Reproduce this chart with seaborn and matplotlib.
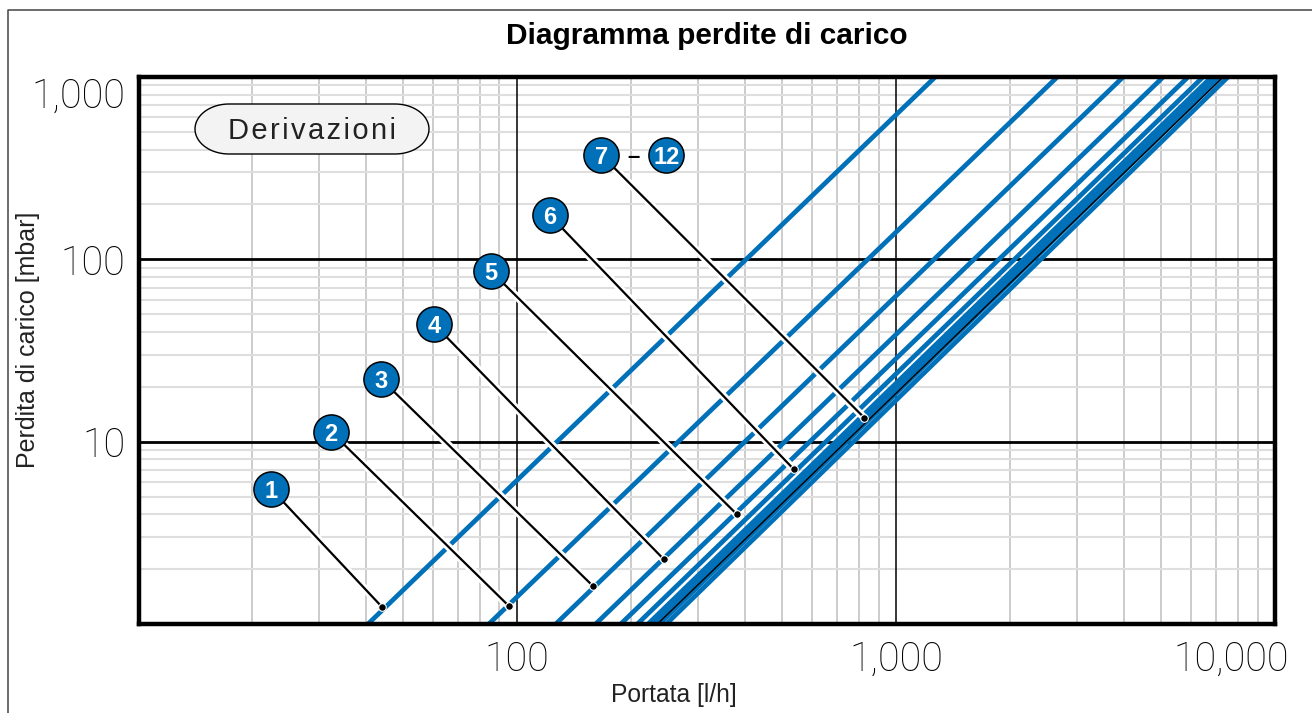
"""
Pressure drop diagram, one line per branch count.
"""
import numpy as np
import pandas as pd
import matplotlib
matplotlib.use('Agg')
import matplotlib.pyplot as plt
import matplotlib.patheffects as pe
import matplotlib.transforms as mtransforms
from matplotlib.lines import Line2D
from matplotlib.patches import Polygon
from matplotlib.ticker import NullFormatter, FixedLocator
import seaborn as sns

# flow [l/h] where each line meets 1 mbar and 1000 mbar
line_names = ['1', '2', '3', '4', '5', '6', '7', '8', '9', '10', '11', '12']
flow_at_1 = [40.5, 84.4, 126.7, 161.4, 188, 208, 222, 226, 230, 234, 238, 248]
flow_at_1000 = [1270, 2665, 3976, 5070, 5898, 6457, 6800, 6900, 7000, 7100, 7200, 7516]
dp_ends = [1, 1000]

# thin black line inside the band
black_flow = [235, 7300]

# callouts: bubble position and the point on the line
bubble_labels = ['1', '2', '3', '4', '5', '6', '7']
bubble_x = [22.5, 32.4, 43.8, 60.4, 85.4, 122, 167]
bubble_y = [5.50, 11.3, 22.1, 44.2, 86.4, 175, 374]
end_x = [44.1, 95.3, 158.6, 243.9, 380, 537, 826]
end_y = [1.24, 1.255, 1.62, 2.27, 4.01, 7.08, 13.5]
last_bubble_x = 248
last_bubble_y = 374
dash_x = 203

x_ticks = [100, 1000, 10000]
x_tick_labels = ['100', '1,000', '10,000']
y_ticks = [10, 100, 1000]
y_tick_labels = ['10', '100', '1,000']

BLUE = '#0070b8'
W, H = 1312, 713

sns.set_theme(style='white')
plt.rcParams['font.family'] = ['Roboto', 'Liberation Sans', 'DejaVu Sans']
HEAVY = ['Liberation Sans', 'DejaVu Sans']


def pill_points(x0, x1, y0, y1, rx):
    """Outline of a pill with elliptic ends, in pixels."""
    ry = (y1 - y0) / 2
    t = np.linspace(-np.pi / 2, np.pi / 2, 40)
    right = np.column_stack((x1 - rx + rx * np.cos(t), (y0 + y1) / 2 + ry * np.sin(t)))
    left = np.column_stack((x0 + rx - rx * np.cos(t[::-1]), (y0 + y1) / 2 + ry * np.sin(t[::-1])))
    return np.vstack((right, left))


rows = []
for name, q1, q2 in zip(line_names, flow_at_1, flow_at_1000):
    rows.append({'line': name, 'flow': q1, 'dp': dp_ends[0]})
    rows.append({'line': name, 'flow': q2, 'dp': dp_ends[1]})
df = pd.DataFrame(rows)

fig = plt.figure(figsize=(W / 100, H / 100), dpi=100)
ax = fig.add_axes([139 / W, 1 - 624 / H, (1275 - 139) / W, (624 - 77) / H])

ax.set_xscale('log')
ax.set_yscale('log')

sns.lineplot(data=df, x='flow', y='dp', units='line', estimator=None, color=BLUE,
             lw=3.4, ax=ax, zorder=3, solid_capstyle='butt')
sns.lineplot(x=black_flow, y=dp_ends, color='black', lw=1.0, ax=ax, zorder=3.2,
             errorbar=None)

ax.set_xlim(10.08, 10000)
ax.set_ylim(1, 1000)

minor = np.arange(2, 10)
ax.xaxis.set_minor_locator(FixedLocator(np.concatenate([minor * 10.0, minor * 100.0, minor * 1000.0])))
ax.yaxis.set_minor_locator(FixedLocator(np.concatenate([minor * 1.0, minor * 10.0, minor * 100.0])))
ax.xaxis.set_minor_formatter(NullFormatter())
ax.yaxis.set_minor_formatter(NullFormatter())
ax.set_xticks(x_ticks, x_tick_labels)
ax.set_yticks(y_ticks, y_tick_labels)

ax.grid(which='minor', axis='x', color='#cccccc', lw=1.4)
ax.grid(which='minor', axis='y', color='#dedede', lw=1.5)
ax.grid(which='major', visible=False)
for v in x_ticks:
    ax.axvline(v, color='black', lw=1.1, zorder=1.5)
for v in y_ticks:
    ax.axhline(v, color='black', lw=2.0, zorder=1.5)
ax.set_axisbelow(True)
ax.tick_params(which='both', length=0)
ax.tick_params(axis='both', labelsize=28.5, colors='black')
ax.tick_params(axis='x', pad=12)
ax.tick_params(axis='y', pad=10)
for lab in ax.get_xticklabels() + ax.get_yticklabels():
    lab.set_fontweight('light')

# the last labels sit inside the plot span
xl = ax.get_xticklabels()[-1]
xl.set_transform(xl.get_transform() + mtransforms.ScaledTranslation(-44 / 100, 0, fig.dpi_scale_trans))
yl = ax.get_yticklabels()[-1]
yl.set_transform(yl.get_transform() + mtransforms.ScaledTranslation(0, -15 / 100, fig.dpi_scale_trans))

for s in ax.spines.values():
    s.set_visible(True)
    s.set_color('black')
    s.set_linewidth(3.2)
    s.set_zorder(6)

ax.set_xlabel('Portata [l/h]', fontsize=17.7, color='#222222', family=HEAVY)
ax.set_ylabel('Perdita di carico [mbar]', fontsize=18, color='#222222', family=HEAVY)
ax.xaxis.set_label_coords((674 - 139) / (1275 - 139), -(695 - 624) / (624 - 77), transform=ax.transAxes)
ax.xaxis.label.set_verticalalignment('center')
ax.yaxis.set_label_coords(-(139 - 28) / (1275 - 139), (624 - 340) / (624 - 77), transform=ax.transAxes)
ax.yaxis.label.set_verticalalignment('center')

# leaders with white halo that cuts the blue lines
halo = [pe.Stroke(linewidth=5.5, foreground='white'), pe.Normal()]
for bx, by, ex, ey in zip(bubble_x, bubble_y, end_x, end_y):
    ax.plot([bx, ex], [by, ey], color='black', lw=1.6, zorder=4,
            solid_capstyle='butt', path_effects=halo)
ax.scatter(end_x, end_y, s=30, color='black', edgecolor='white', linewidth=0.8, zorder=4.5)

all_x = bubble_x + [last_bubble_x]
all_y = bubble_y + [last_bubble_y]
all_lab = bubble_labels + ['12']
ax.scatter(all_x, all_y, s=640, color=BLUE, edgecolor='black', linewidth=1.1, zorder=5)
for bx, by, lab in zip(all_x, all_y, all_lab):
    ax.text(bx, by, lab, color='white', fontsize=17, fontweight='bold', ha='center',
            va='center_baseline', zorder=5.5, family=HEAVY)
ax.text(dash_x, last_bubble_y, '–', color='black', fontsize=16, fontweight='bold',
        ha='center', va='center_baseline', zorder=5, family=HEAVY)

# pill label, placed in pixels
pill = Polygon(pill_points(195, 429, H - 154, H - 104, 34), closed=True,
               transform=mtransforms.IdentityTransform(), facecolor='#f3f3f3',
               edgecolor='black', linewidth=1.0, zorder=5)
fig.add_artist(pill)
fig.text(312 / W, 1 - 131 / H, '\u200a'.join('Derivazioni'), fontsize=21, color='#222222',
         ha='center', va='center', zorder=6, family=HEAVY)

fig.text(707 / W, 1 - 36 / H, 'Diagramma perdite di carico', fontsize=21.5, fontweight='bold',
         color='black', ha='center', va='center', family=HEAVY)

fig.add_artist(Line2D([7.5 / W, 7.5 / W, 1], [0, 1 - 10 / H, 1 - 10 / H], transform=fig.transFigure,
                      color='#444444', lw=1.1))

fig.savefig('out.png', dpi=100)
